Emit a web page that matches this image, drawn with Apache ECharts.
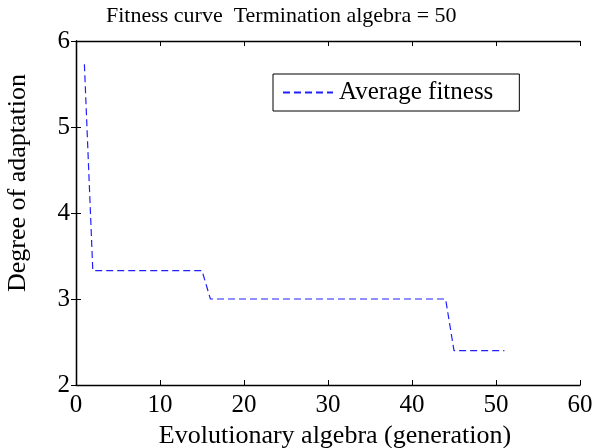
<!DOCTYPE html>
<html>
<head>
<meta charset="utf-8">
<script src="https://cdn.jsdelivr.net/npm/echarts@6/dist/echarts.min.js"></script>
<style>
  html, body { margin: 0; padding: 0; background: #fff; }
  #main { width: 596px; height: 448px; }
</style>
</head>
<body>
<div id="main"></div>
<script>
// generations 1..51 and the average fitness
var generations = [];
for (var g = 1; g <= 51; g++) generations.push(g);
var fitness = [
  5.73, 3.33, 3.33, 3.33, 3.33, 3.33, 3.33, 3.33, 3.33, 3.33,
  3.33, 3.33, 3.33, 3.33, 3.33, 3.0, 3.0, 3.0, 3.0, 3.0,
  3.0, 3.0, 3.0, 3.0, 3.0, 3.0, 3.0, 3.0, 3.0, 3.0,
  3.0, 3.0, 3.0, 3.0, 3.0, 3.0, 3.0, 3.0, 3.0, 3.0,
  3.0, 3.0, 3.0, 3.0, 2.4, 2.4, 2.4, 2.4, 2.4, 2.4,
  2.4
];
var seriesName = 'Average fitness';
var titleText = 'Fitness curve  Termination algebra = 50';

var font = 'Liberation Serif, Times New Roman, serif';
var points = generations.map(function (x, i) { return [x, fitness[i]]; });

var tickStyle = { show: true, inside: true, length: 5, lineStyle: { color: '#000', width: 1 } };
var lineStyle = { show: true, lineStyle: { color: '#000', width: 1.3 } };

var chart = echarts.init(document.getElementById('main'), null, { renderer: 'canvas' });
chart.setOption({
  animation: false,
  backgroundColor: '#fff',
  title: {
    text: titleText,
    left: 101, top: 0,
    textStyle: { fontFamily: font, fontSize: 22, fontWeight: 'normal', color: '#000' }
  },
  legend: {
    data: [seriesName],
    left: 273, top: 74,
    orient: 'vertical',
    padding: [6, 26, 6, 9],
    itemWidth: 50, itemHeight: 12, itemGap: 0,
    itemStyle: { opacity: 0 },
    borderColor: '#000', borderWidth: 1,
    backgroundColor: '#fff',
    textStyle: { fontFamily: font, fontSize: 25, color: '#000', padding: [0, 0, 0, 1] }
  },
  grid: { left: 76, right: 16, top: 41, bottom: 63, containLabel: false, outerBoundsMode: 'none' },
  xAxis: [{
    type: 'value', min: 0, max: 60, interval: 10,
    name: 'Evolutionary algebra (generation)',
    nameLocation: 'middle', nameGap: 34,
    nameTextStyle: { fontFamily: font, fontSize: 26, color: '#000', padding: [0, 0, 0, 14] },
    axisLine: lineStyle, axisTick: tickStyle,
    axisLabel: { fontFamily: font, fontSize: 25, color: '#000', margin: 8 },
    splitLine: { show: false }
  }, {
    type: 'value', min: 0, max: 60, interval: 10, position: 'top',
    axisLine: lineStyle, axisTick: tickStyle,
    axisLabel: { show: false }, splitLine: { show: false }
  }],
  yAxis: [{
    type: 'value', min: 2, max: 6, interval: 1,
    name: 'Degree of adaptation',
    nameLocation: 'middle', nameGap: 45,
    nameTextStyle: { fontFamily: font, fontSize: 26, color: '#000', padding: [0, 0, 0, 60] },
    axisLine: lineStyle, axisTick: tickStyle,
    axisLabel: { fontFamily: font, fontSize: 25, color: '#000', margin: 6 },
    splitLine: { show: false }
  }, {
    type: 'value', min: 2, max: 6, interval: 1, position: 'right',
    axisLine: lineStyle, axisTick: tickStyle,
    axisLabel: { show: false }, splitLine: { show: false }
  }],
  series: [{
    name: seriesName,
    type: 'line',
    data: points,
    symbol: 'none',
    color: '#2020ff',
    lineStyle: { color: '#2020ff', width: 1.2, type: [7, 4] }
  }]
});
</script>
</body>
</html>
